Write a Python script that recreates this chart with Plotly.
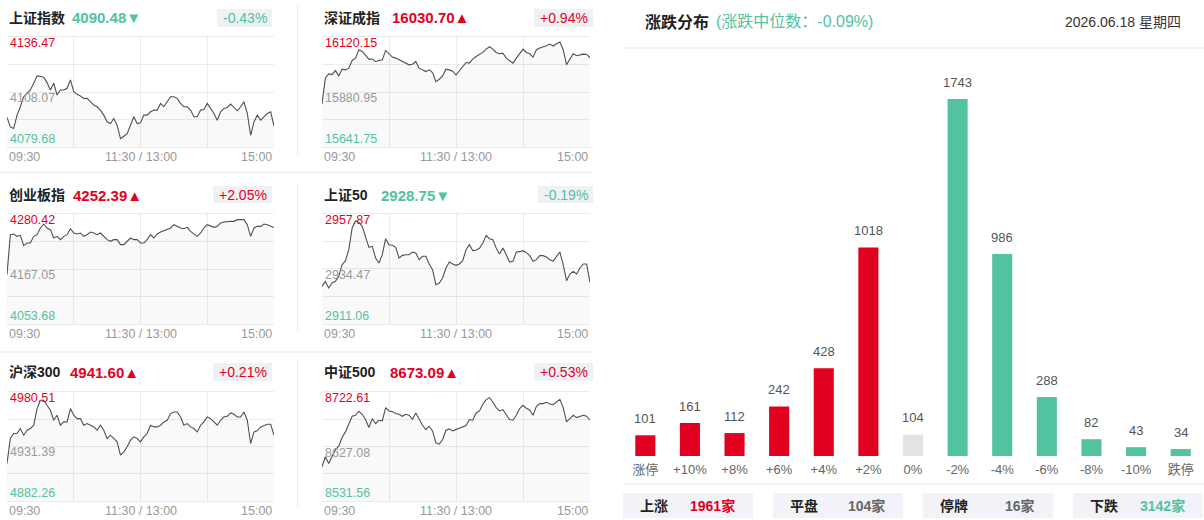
import plotly.graph_objects as go

# ---------------- data ----------------
INDEX_NAMES = ["上证指数", "深证成指", "创业板指", "上证50", "沪深300", "中证500"]
INDEX_CLOSE = [4090.48, 16030.70, 4252.39, 2928.75, 4941.60, 8673.09]
INDEX_CHANGE = ["-0.43%", "+0.94%", "+2.05%", "-0.19%", "+0.21%", "+0.53%"]
INDEX_HIGH = [4136.47, 16120.15, 4280.42, 2957.87, 4980.51, 8722.61]
INDEX_PRECLOSE = [4108.07, 15880.95, 4167.05, 2934.47, 4931.39, 8627.08]
INDEX_LOW = [4079.68, 15641.75, 4053.68, 2911.06, 4882.26, 8531.56]
TIME_LABELS = ["09:30", "11:30 / 13:00", "15:00"]
MINUTES = list(range(0, 241, 3))  # sample times (trading minutes since 09:30)

SH = [4094.92, 4090.07, 4089.20, 4096.13, 4100.46, 4105.65, 4107.38, 4109.11, 4112.58, 4116.39,
      4116.04, 4115.69, 4112.92, 4109.11, 4112.58, 4106.52, 4109.11, 4109.11, 4109.98, 4114.31,
      4108.25, 4106.86, 4106.00, 4104.79, 4104.79, 4103.05, 4101.32, 4100.46, 4098.73, 4096.13,
      4092.67, 4091.80, 4094.40, 4090.93, 4084.01, 4085.22, 4086.61, 4090.93, 4095.26, 4091.80,
      4092.15, 4096.13, 4096.13, 4097.86, 4098.73, 4098.73, 4102.19, 4100.46, 4103.05, 4105.65,
      4105.65, 4104.79, 4102.19, 4100.46, 4100.46, 4098.73, 4095.26, 4095.26, 4098.73, 4099.07,
      4102.19, 4099.59, 4096.99, 4093.50, 4097.86, 4099.59, 4100.11, 4101.84, 4100.11, 4098.38,
      4100.46, 4103.05, 4096.99, 4085.74, 4092.67, 4096.13, 4093.53, 4095.26, 4096.99, 4097.86,
      4090.48]
SZ = [15828.44, 15940.74, 15959.70, 15956.79, 15974.29, 15950.95, 15980.12, 15977.21, 15984.50, 16018.04,
      16028.25, 16064.72, 16057.42, 16042.84, 16023.88, 16023.88, 16013.67, 16018.04, 16020.96, 16061.80,
      16045.75, 16032.63, 16028.25, 16020.96, 16013.67, 16006.38, 15999.08, 16002.00, 16013.67, 15984.50,
      15977.21, 15969.91, 15977.21, 15965.54, 15926.16, 15936.37, 15950.95, 15980.12, 15977.21, 15971.37,
      15955.33, 15974.29, 15991.79, 16009.29, 16006.38, 16023.88, 16035.55, 16042.84, 16053.05, 16067.63,
      16077.84, 16067.63, 16053.05, 16047.21, 16050.13, 16028.25, 16018.04, 16006.38, 16028.25, 16050.13,
      16067.63, 16053.05, 16047.21, 16032.63, 16064.72, 16072.01, 16076.38, 16082.22, 16089.51, 16080.76,
      16090.97, 16098.26, 16064.72, 15999.08, 16023.88, 16047.21, 16038.46, 16042.84, 16045.75, 16044.30,
      16030.70]
CYB = [4155.37, 4237.82, 4239.19, 4234.38, 4236.45, 4215.83, 4220.64, 4220.64, 4234.38, 4237.82,
       4251.56, 4259.81, 4251.56, 4248.13, 4230.95, 4234.38, 4227.51, 4234.38, 4237.82, 4250.19,
       4241.26, 4239.19, 4241.26, 4234.38, 4237.82, 4243.32, 4241.26, 4237.82, 4241.26, 4234.38,
       4227.51, 4224.08, 4227.51, 4227.51, 4217.21, 4217.21, 4224.08, 4230.95, 4227.51, 4227.51,
       4220.64, 4220.64, 4227.51, 4237.82, 4230.95, 4239.19, 4243.32, 4246.07, 4250.19, 4251.56,
       4258.43, 4255.00, 4251.56, 4250.19, 4252.94, 4244.69, 4239.19, 4234.38, 4241.26, 4251.56,
       4258.43, 4255.00, 4252.94, 4255.00, 4261.87, 4263.93, 4265.30, 4265.30, 4265.30, 4268.74,
       4268.74, 4268.74, 4258.43, 4234.38, 4251.56, 4255.00, 4255.00, 4259.81, 4258.43, 4255.00,
       4252.39]
SZ50 = [2927.09, 2929.22, 2926.38, 2928.51, 2929.22, 2931.34, 2936.31, 2938.01, 2942.69, 2951.91,
        2955.03, 2954.32, 2952.62, 2948.37, 2943.69, 2944.11, 2939.15, 2937.02, 2940.56, 2947.37,
        2944.82, 2944.54, 2943.69, 2939.15, 2940.28, 2940.56, 2940.56, 2941.70, 2941.27, 2938.44,
        2939.86, 2939.86, 2936.59, 2934.18, 2927.80, 2928.51, 2930.64, 2934.89, 2937.44, 2936.59,
        2936.03, 2936.59, 2938.01, 2942.69, 2944.82, 2942.27, 2942.55, 2943.26, 2945.53, 2948.79,
        2947.37, 2946.95, 2943.40, 2940.85, 2943.40, 2940.56, 2937.44, 2937.73, 2941.70, 2941.84,
        2942.27, 2941.42, 2940.14, 2937.73, 2938.44, 2940.14, 2940.14, 2939.57, 2938.44, 2937.87,
        2939.86, 2941.70, 2936.31, 2929.50, 2932.34, 2933.47, 2932.34, 2934.89, 2936.59, 2936.59,
        2928.75]
HS300 = [4916.11, 4938.57, 4943.07, 4943.07, 4947.56, 4941.57, 4946.06, 4947.56, 4950.56, 4965.53,
         4973.02, 4973.02, 4968.53, 4964.03, 4955.05, 4959.54, 4950.56, 4953.55, 4953.55, 4965.53,
         4959.54, 4956.55, 4956.55, 4950.56, 4952.05, 4950.56, 4949.06, 4946.06, 4950.56, 4946.06,
         4938.57, 4941.57, 4938.57, 4935.58, 4923.60, 4926.59, 4931.09, 4937.08, 4940.07, 4938.57,
         4935.58, 4940.07, 4943.07, 4950.56, 4949.06, 4949.06, 4950.56, 4953.55, 4955.05, 4961.04,
         4962.54, 4962.54, 4958.04, 4950.56, 4952.05, 4949.06, 4947.56, 4944.56, 4950.56, 4953.55,
         4958.04, 4956.55, 4953.55, 4950.56, 4955.05, 4958.04, 4958.64, 4961.64, 4960.44, 4958.04,
         4958.04, 4962.54, 4955.05, 4934.08, 4944.56, 4945.46, 4949.06, 4950.56, 4951.45, 4951.45,
         4941.60]
ZZ500 = [8591.55, 8609.03, 8597.38, 8610.19, 8621.84, 8627.67, 8642.81, 8652.71, 8667.28, 8680.09,
         8681.84, 8688.83, 8683.58, 8674.27, 8660.29, 8676.01, 8667.28, 8673.10, 8671.94, 8695.23,
         8689.41, 8688.24, 8684.75, 8683.58, 8680.09, 8683.58, 8681.84, 8674.85, 8685.91, 8674.27,
         8664.36, 8656.79, 8662.62, 8654.46, 8633.49, 8631.16, 8639.32, 8655.63, 8657.96, 8654.46,
         8656.79, 8660.29, 8662.03, 8663.78, 8674.27, 8673.10, 8685.91, 8689.41, 8701.06, 8709.21,
         8712.71, 8705.14, 8695.23, 8689.41, 8691.74, 8683.58, 8674.27, 8673.10, 8681.84, 8693.49,
         8699.31, 8694.07, 8690.57, 8681.84, 8697.56, 8702.22, 8702.22, 8704.55, 8701.64, 8700.48,
         8705.14, 8709.80, 8695.23, 8670.19, 8676.01, 8681.84, 8677.76, 8679.51, 8681.84, 8680.09,
         8673.09]
INDEX_SERIES = [SH, SZ, CYB, SZ50, HS300, ZZ500]

DIST_CATEGORIES = ["涨停", "+10%", "+8%", "+6%", "+4%", "+2%", "0%", "-2%", "-4%", "-6%", "-8%", "-10%", "跌停"]
DIST_COUNTS = [101, 161, 112, 242, 428, 1018, 104, 1743, 986, 288, 82, 43, 34]
MEDIAN_CHANGE = "-0.09%"
DATE_TEXT = "2026.06.18 星期四"
SUMMARY_LABELS = ["上涨", "平盘", "停牌", "下跌"]
SUMMARY_COUNTS = [1961, 104, 16, 3142]

# ---------------- style ----------------
W, H = 1204, 520
RED = "#e1001f"
GREEN = "#52c2a0"
GRAYBAR = "#e3e3e3"
GRID = "#ebebeb"
FONT = "Liberation Sans, Arial, Noto Sans CJK SC, sans-serif"


def px(x):
    return x / W


def py(y):
    return 1 - y / H


COLS = [(7, 274), (322, 590)]
ROWS = [(37, 147), (214, 324), (392, 501)]
TITLE_Y = [18, 195, 372]
BADGE_Y = [(9, 27), (186, 203), (363, 381)]
VALUE_X = [70, 390, 71, 379, 68, 388]
BADGE_RIGHT = [272, 593]

fig = go.Figure()
annotations = []
shapes = []
layout = {}

for i, series in enumerate(INDEX_SERIES):
    n = i + 1
    col, row = i % 2, i // 2
    x0, x1 = COLS[col]
    y0, y1 = ROWS[row]
    xs = "x" if n == 1 else f"x{n}"
    ys = "y" if n == 1 else f"y{n}"
    xa = "xaxis" if n == 1 else f"xaxis{n}"
    ya = "yaxis" if n == 1 else f"yaxis{n}"
    lo, mid, hi = INDEX_LOW[i], INDEX_PRECLOSE[i], INDEX_HIGH[i]
    layout[xa] = dict(domain=[px(x0), px(x1)], range=[0, 240], anchor=ys,
                      tickvals=[60, 120, 180], showticklabels=False, ticks="",
                      showgrid=True, gridcolor=GRID, gridwidth=1, zeroline=False,
                      showline=True, mirror=True, linecolor=GRID, linewidth=1, fixedrange=True)
    layout[ya] = dict(domain=[py(y1), py(y0)], range=[lo, hi], anchor=xs,
                      tickvals=[(lo + mid) / 2, mid, (mid + hi) / 2], showticklabels=False, ticks="",
                      showgrid=True, gridcolor=GRID, gridwidth=1, zeroline=False,
                      showline=False, fixedrange=True)
    fig.add_trace(go.Scatter(x=MINUTES, y=series, xaxis=xs, yaxis=ys, mode="lines",
                             line=dict(color="#505050", width=1.1),
                             fill="tozeroy", fillcolor="rgba(0,0,0,0.025)",
                             hoverinfo="skip", showlegend=False))
    # y labels
    for val, col_, shift in [(hi, RED, -6), (mid, "#999999", -6), (lo, GREEN, 8)]:
        annotations.append(dict(xref="paper", yref=ys, x=px(x0 + 1), y=val, xanchor="left",
                                yanchor="middle", yshift=shift, showarrow=False, text=f"{val:.2f}",
                                font=dict(size=12.5, color=col_, family=FONT)))
    # time labels
    for t, tx, anc in zip(TIME_LABELS, [0, 120, 240], ["left", "center", "right"]):
        annotations.append(dict(xref=xs, yref="paper", x=tx, y=py(y1 + 10), xanchor=anc,
                                yanchor="middle", showarrow=False, text=t,
                                font=dict(size=12.5, color="#999999", family=FONT)))
    # title
    up = INDEX_CHANGE[i].startswith("+")
    c = RED if up else GREEN
    arrow = "▲" if up else "▼"
    annotations.append(dict(xref="paper", yref="paper", x=px(x0), y=py(TITLE_Y[row]),
                            xanchor="left", yanchor="middle", showarrow=False,
                            text=f"<b>{INDEX_NAMES[i]}</b>",
                            font=dict(size=14, color="#222222", family=FONT)))
    annotations.append(dict(xref="paper", yref="paper", x=px(VALUE_X[i]), y=py(TITLE_Y[row]),
                            xanchor="left", yanchor="middle", showarrow=False,
                            text=f"<b>{INDEX_CLOSE[i]:.2f}{arrow}</b>",
                            font=dict(size=15, color=c, family=FONT)))
    # badge
    bw = 59 if up else 55
    br = BADGE_RIGHT[col]
    by0, by1 = BADGE_Y[row]
    shapes.append(dict(type="rect", xref="paper", yref="paper", x0=px(br - bw), x1=px(br),
                       y0=py(by1), y1=py(by0), fillcolor="#eff1f5", line=dict(width=0), layer="below"))
    annotations.append(dict(xref="paper", yref="paper", x=px(br - bw / 2), y=py((by0 + by1) / 2),
                            xanchor="center", yanchor="middle", showarrow=False,
                            text=INDEX_CHANGE[i], font=dict(size=14, color=c, family=FONT)))

# separators in the left half
for (sy0, sy1) in [(5, 155), (183, 332), (360, 508)]:
    shapes.append(dict(type="line", xref="paper", yref="paper", x0=px(297.5), x1=px(297.5),
                       y0=py(sy0), y1=py(sy1), line=dict(color="#ececec", width=1)))
for sy in [172.5, 352]:
    shapes.append(dict(type="line", xref="paper", yref="paper", x0=0, x1=px(593),
                       y0=py(sy), y1=py(sy), line=dict(color="#f2f2f2", width=2)))

# ---------------- distribution bar chart ----------------
bar_colors = [RED] * 6 + [GRAYBAR] + [GREEN] * 6
fig.add_trace(go.Bar(x=DIST_CATEGORIES, y=DIST_COUNTS, xaxis="x7", yaxis="y7",
                     marker=dict(color=bar_colors, line=dict(width=0)), width=0.45,
                     hoverinfo="skip", showlegend=False))
layout["xaxis7"] = dict(domain=[px(623), px(1203)], anchor="y7", type="category",
                        range=[-0.5, 12.5], showgrid=False, zeroline=False, showline=False,
                        ticks="outside", ticklen=1, tickcolor="rgba(0,0,0,0)",
                        tickfont=dict(size=13, color="#666666", family=FONT), fixedrange=True)
layout["yaxis7"] = dict(domain=[py(456), py(99)], anchor="x7", range=[0, max(DIST_COUNTS)],
                        showgrid=False, zeroline=False, showline=False, showticklabels=False,
                        fixedrange=True)
for cat, v in zip(DIST_CATEGORIES, DIST_COUNTS):
    annotations.append(dict(xref="x7", yref="y7", x=cat, y=v, xanchor="center", yanchor="middle",
                            yshift=17, showarrow=False, text=str(v),
                            font=dict(size=13, color="#555555", family=FONT)))

# header
annotations.append(dict(xref="paper", yref="paper", x=px(643), y=py(22), xanchor="left",
                        yanchor="middle", showarrow=False, text="<b>涨跌分布</b>",
                        font=dict(size=16, color="#222222", family=FONT)))
annotations.append(dict(xref="paper", yref="paper", x=px(714), y=py(22), xanchor="left",
                        yanchor="middle", showarrow=False, text=f"(涨跌中位数：{MEDIAN_CHANGE})",
                        font=dict(size=16, color=GREEN, family=FONT)))
annotations.append(dict(xref="paper", yref="paper", x=px(1183), y=py(22), xanchor="right",
                        yanchor="middle", showarrow=False, text=DATE_TEXT,
                        font=dict(size=14, color="#333333", family=FONT)))
for ly in [48, 484]:
    shapes.append(dict(type="line", xref="paper", yref="paper", x0=px(623), x1=1,
                       y0=py(ly), y1=py(ly), line=dict(color="#e8e8ee", width=1)))

# summary boxes
sum_colors = [RED, "#666666", "#666666", GREEN]
for k, (lab, cnt) in enumerate(zip(SUMMARY_LABELS, SUMMARY_COUNTS)):
    bx0 = 623 + 150 * k
    bx1 = bx0 + 130
    shapes.append(dict(type="rect", xref="paper", yref="paper", x0=px(bx0), x1=px(bx1),
                       y0=py(518), y1=py(493), fillcolor="#f2f3f8", line=dict(width=0), layer="below"))
    annotations.append(dict(xref="paper", yref="paper", x=px(bx0 + 15), y=py(505.5), xanchor="left",
                            yanchor="middle", showarrow=False, text=f"<b>{lab}</b>",
                            font=dict(size=14, color="#222222", family=FONT)))
    annotations.append(dict(xref="paper", yref="paper", x=px(bx1 - 16), y=py(505.5), xanchor="right",
                            yanchor="middle", showarrow=False, text=f"<b>{cnt}家</b>",
                            font=dict(size=14, color=sum_colors[k], family=FONT)))

fig.update_layout(width=W, height=H, margin=dict(l=0, r=0, t=0, b=0),
                  paper_bgcolor="white", plot_bgcolor="white",
                  font=dict(family=FONT), showlegend=False, hovermode=False,
                  annotations=annotations, shapes=shapes, **layout)

fig.write_html("out.html",
               config={"displayModeBar": False, "staticPlot": True},
               post_script="document.body.style.margin='0';document.body.style.padding='0';"
                           "document.documentElement.style.overflow='hidden';")
